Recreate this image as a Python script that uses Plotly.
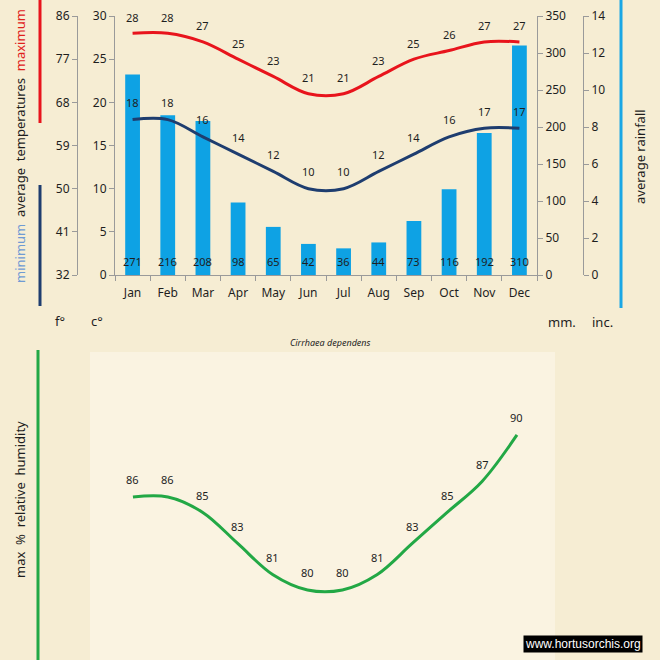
import plotly.graph_objects as go

months = ["Jan", "Feb", "Mar", "Apr", "May", "Jun", "Jul", "Aug", "Sep", "Oct", "Nov", "Dec"]
rain_mm = [271, 216, 208, 98, 65, 42, 36, 44, 73, 116, 192, 310]
t_max = [28, 28, 27, 25, 23, 21, 21, 23, 25, 26, 27, 27]
t_min = [18, 18, 16, 14, 12, 10, 10, 12, 14, 16, 17, 17]
humidity = [86, 86, 85, 83, 81, 80, 80, 81, 83, 85, 87, 90]

W = H = 660
PAPER = "#F6EDD3"
PANEL = "#FAF3E1"
AX = "#9A9A9A"
TXT = "#1E1E1E"
FONT = "Noto Sans"


def fx(p):
    return p / W


def fy(p):
    return 1 - p / H


fig = go.Figure()

fig.add_trace(go.Bar(x=months, y=rain_mm, xaxis="x", yaxis="y",
                     marker=dict(color="#0EA2E4", line=dict(width=0)),
                     width=0.42, hoverinfo="skip"))
fig.add_trace(go.Scatter(x=months, y=t_max, xaxis="x", yaxis="y2", mode="lines",
                         line=dict(color="#E8141C", width=3, shape="spline", smoothing=1.0)))
fig.add_trace(go.Scatter(x=months, y=t_min, xaxis="x", yaxis="y2", mode="lines",
                         line=dict(color="#1E3D6F", width=3, shape="spline", smoothing=1.0)))
fig.add_trace(go.Scatter(x=months, y=humidity, xaxis="x2", yaxis="y5", mode="lines",
                         line=dict(color="#22A845", width=3, shape="spline", smoothing=1.0)))
fig.add_trace(go.Scatter(x=[months[0]], y=[None], xaxis="x", yaxis="y3", showlegend=False))
fig.add_trace(go.Scatter(x=[months[0]], y=[None], xaxis="x", yaxis="y4", showlegend=False))

lab_font = dict(size=11, color=TXT, family=FONT)
ann = []
for m, v in zip(months, t_max):
    ann.append(dict(x=m, y=v, xref="x", yref="y2", text=str(v), showarrow=False,
                    yshift=16, font=lab_font))
for m, v in zip(months, t_min):
    ann.append(dict(x=m, y=v, xref="x", yref="y2", text=str(v), showarrow=False,
                    yshift=17, font=lab_font))
for m, v in zip(months, rain_mm):
    ann.append(dict(x=m, y=0, xref="x", yref="y", text=str(v), showarrow=False,
                    yshift=14, font=lab_font))
for m, v in zip(months, humidity):
    ann.append(dict(x=m, y=v, xref="x2", yref="y5", text=str(v), showarrow=False,
                    yshift=17, font=lab_font))


def pann(xp, yp, text, size=13, angle=0, **kw):
    d = dict(x=fx(xp), y=fy(yp), xref="paper", yref="paper", showarrow=False,
             xanchor="center", yanchor="middle", textangle=angle, text=text,
             font=dict(size=size, color=kw.pop("color", TXT), family=kw.pop("family", FONT)))
    d.update(kw)
    return d


ann += [
    pann(20, 146, "<span style='color:#6F9BD3'>minimum</span>  average  temperatures  "
                  "<span style='color:#E0201B'>maximum</span>", size=13, angle=-90),
    pann(640, 157, "average rainfall", size=13, angle=-90),
    pann(20, 500, "max  %  relative  humidity", size=13, angle=-90),
    pann(60, 321, "f°"),
    pann(97, 321, "c°"),
    pann(562, 322, "mm."),
    pann(602, 322, "inc."),
    pann(330, 342, "<i>Cirrhaea dependens</i>", size=9),
    pann(583, 644, "www.hortusorchis.org", size=12, color="#FFFFFF",
         family="Liberation Sans", bgcolor="#000000", borderpad=1),
]

shapes = [
    dict(type="rect", xref="x2 domain", yref="y5 domain", x0=0, x1=1, y0=0, y1=1,
         fillcolor=PANEL, line=dict(width=0), layer="below"),
    dict(type="line", xref="paper", yref="paper", x0=fx(40), x1=fx(40), y0=fy(0), y1=fy(123),
         line=dict(color="#E8141C", width=3)),
    dict(type="line", xref="paper", yref="paper", x0=fx(40), x1=fx(40), y0=fy(185), y1=fy(306),
         line=dict(color="#1E3D6F", width=3)),
    dict(type="line", xref="paper", yref="paper", x0=fx(38), x1=fx(38), y0=fy(350), y1=fy(660),
         line=dict(color="#22A845", width=3)),
    dict(type="line", xref="paper", yref="paper", x0=fx(621), x1=fx(621), y0=fy(0), y1=fy(308),
         line=dict(color="#1AA7E5", width=3)),
]

tick_font = dict(size=12, color=TXT, family=FONT)
yaxis_common = dict(showgrid=False, zeroline=False, showline=True, linecolor=AX, linewidth=1,
                    ticks="outside", ticklen=5, tickcolor=AX, tickfont=tick_font,
                    automargin=False)

fig.update_layout(
    width=W, height=H, margin=dict(l=0, r=0, t=0, b=0, pad=0, autoexpand=False),
    paper_bgcolor=PAPER, plot_bgcolor="rgba(0,0,0,0)",
    showlegend=False,
    font=dict(family=FONT, color=TXT),
    xaxis=dict(domain=[fx(115), fx(537)], type="category", anchor="y", range=[-0.5, 11.5],
               showline=True, linecolor=AX, ticks="outside", tickson="boundaries", ticklen=5,
               tickcolor=AX, tickfont=tick_font, showgrid=False, ticklabelstandoff=7,
               automargin=False),
    yaxis=dict(domain=[fy(275), fy(16)], range=[0, 350], tick0=0, dtick=50, side="right",
               anchor="x", **yaxis_common),
    yaxis2=dict(overlaying="y", range=[0, 30], tick0=0, dtick=5, side="left", anchor="x",
                **yaxis_common),
    yaxis3=dict(overlaying="y", range=[32, 86], tick0=32, dtick=9, side="left", anchor="free",
                position=fx(77), **yaxis_common),
    yaxis4=dict(overlaying="y", range=[0, 14], tick0=0, dtick=2, side="right", anchor="free",
                position=fx(583), **yaxis_common),
    xaxis2=dict(domain=[fx(90), fx(555)], type="category", anchor="y5",
                range=[-1.23, 12.09], visible=False, automargin=False),
    yaxis5=dict(domain=[0, fy(352)], range=[75.48, 95.35], anchor="x2", visible=False,
                automargin=False),
    annotations=ann, shapes=shapes,
)

fig.write_html(
    "out.html",
    config={"displayModeBar": False, "responsive": False},
    post_script="document.documentElement.style.background='" + PAPER + "';"
                "document.body.style.background='" + PAPER + "';"
                "document.body.style.margin='0';",
)
